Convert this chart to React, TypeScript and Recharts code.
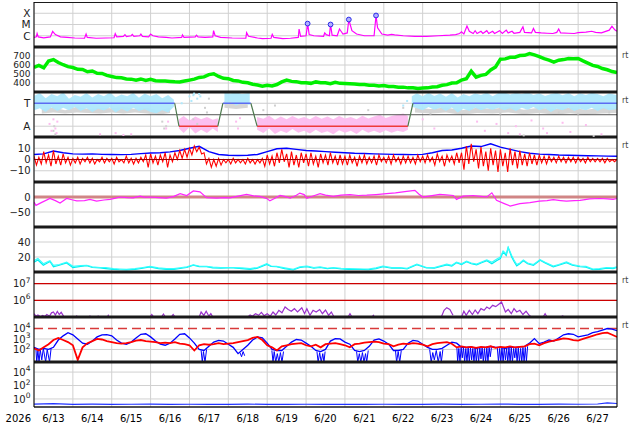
import React from 'react';
import { ComposedChart, Line, Area, Scatter, XAxis, YAxis, CartesianGrid, ReferenceLine, Label } from 'recharts';

// ---------- axis / category data ----------
const dayTicks = [0, 1, 2, 3, 4, 5, 6, 7, 8, 9, 10, 11, 12, 13, 14, 15];
const dateTicks = [0.5, 1.5, 2.5, 3.5, 4.5, 5.5, 6.5, 7.5, 8.5, 9.5, 10.5, 11.5, 12.5, 13.5, 14.5];
const dateLabels = ['6/13', '6/14', '6/15', '6/16', '6/17', '6/18', '6/19', '6/20', '6/21', '6/22', '6/23', '6/24', '6/25', '6/26', '6/27'];
const yearLabel = '2026';
const xrayLetters: Record<string, string> = { '-6': 'C', '-5': 'M', '-4': 'X' };
const taLetters: Record<string, string> = { '0': 'A', '1': 'T' };

// ---------- series data (t = days since 6/13 00:00) ----------
const xrayFlux: number[][] = [
  [0.00, -6.15], [0.06, -6.1], [0.08, -5.8], [0.11, -6.1], [0.25, -6.18], [0.42, -6.1], [0.48, -5.62], [0.55, -5.9], [0.68, -6.1], [0.85, -6.15],
  [1.05, -6.2], [1.3, -6.22], [1.34, -5.85], [1.37, -6.15], [1.6, -6.22], [1.85, -6.2], [2.06, -6.18], [2.09, -5.82], [2.13, -6.1], [2.3, -6.05],
  [2.34, -5.9], [2.38, -6.08], [2.5, -6.0], [2.53, -5.88], [2.57, -6.05], [2.72, -6.0], [2.75, -5.85], [2.79, -6.05], [2.95, -6.1], [3.0, -5.85],
  [3.06, -6.0], [3.2, -6.1], [3.4, -6.15], [3.55, -6.2], [3.8, -6.15], [3.82, -5.92], [3.86, -6.15], [4.15, -6.1], [4.18, -5.95], [4.22, -6.1],
  [4.4, -6.15], [4.6, -6.1], [4.62, -5.55], [4.66, -6.0], [4.8, -6.15], [5.1, -6.2], [5.45, -6.22], [5.47, -5.72], [5.52, -6.05], [5.75, -6.2],
  [5.88, -6.25], [6.1, -6.22], [6.13, -5.88], [6.17, -6.15], [6.4, -6.25], [6.6, -6.22], [6.8, -6.15], [6.82, -5.4], [6.86, -6.05], [7.0, -6.0],
  [7.04, -4.92], [7.08, -5.9], [7.2, -6.0], [7.45, -6.05], [7.48, -5.75], [7.52, -5.9], [7.6, -6.0], [7.63, -5.0], [7.67, -5.95], [7.8, -6.0],
  [7.86, -5.4], [7.9, -5.6], [7.95, -5.85], [8.06, -5.75], [8.1, -4.56], [8.18, -5.55], [8.3, -5.85], [8.5, -6.0], [8.75, -6.0], [8.8, -4.2],
  [8.84, -5.3], [8.95, -5.85], [9.1, -5.95], [9.2, -5.88], [9.28, -5.92], [9.5, -6.0], [9.8, -6.05], [10.1, -6.05], [10.4, -6.0], [10.7, -5.95],
  [10.85, -5.9], [10.95, -5.8], [11.0, -5.65], [11.06, -5.85], [11.14, -5.13], [11.2, -5.6], [11.3, -5.8], [11.35, -5.55], [11.4, -5.8], [11.5, -5.6],
  [11.55, -5.8], [11.65, -5.55], [11.7, -5.8], [11.8, -5.6], [11.85, -5.8], [11.98, -5.55], [12.05, -5.8], [12.15, -5.5], [12.2, -5.75], [12.3, -5.6],
  [12.35, -5.78], [12.5, -5.7], [12.58, -5.2], [12.62, -5.7], [12.8, -5.75], [12.85, -5.35], [12.9, -5.7], [13.05, -5.75], [13.2, -5.78], [13.35, -5.8],
  [13.45, -5.7], [13.5, -5.4], [13.55, -5.75], [13.75, -5.78], [13.9, -5.8], [14.0, -5.72], [14.2, -5.68], [14.35, -5.6], [14.45, -5.7], [14.6, -5.75],
  [14.8, -5.5], [14.87, -5.16], [14.95, -5.5], [15.0, -5.6],
];
const flarePeaks: number[][] = [[7.04, -4.92], [7.63, -5.0], [8.1, -4.56], [8.8, -4.2]];

// 3-hourly
const windSpeed: number[] = [
  575, 595, 568, 645, 660, 628, 603, 582,
  572, 552, 550, 525, 533, 508, 506, 485,
  472, 460, 458, 445, 443, 430, 445, 428,
  440, 425, 423, 422, 418, 414, 412, 422,
  432, 443, 462, 468, 493, 502, 473, 452,
  448, 428, 423, 407, 403, 387, 378, 365,
  375, 368, 383, 412, 433, 418, 415, 402,
  403, 396, 412, 402, 403, 392, 407, 396,
  394, 392, 390, 383, 382, 375, 374, 366,
  372, 362, 362, 353, 354, 346, 347, 339,
  344, 346, 355, 358, 375, 382, 399, 402,
  433, 447, 530, 465, 485, 495, 545, 578,
  665, 668, 685, 686, 705, 708, 727, 712,
  694, 670, 654, 633, 653, 660, 672, 670,
  673, 646, 621, 596, 584, 561, 547, 527,
  515,
];

const stepT: (number | null)[][] = [[0, 1], [3.62, 1], [3.63, null], [4.86, 1], [5.58, 1], [5.59, null], [9.75, 1], [15, 1]];
const stepA: (number | null)[][] = [[3.73, 0], [4.73, 0], [4.74, null], [5.74, 0], [9.62, 0]];
const stepSwitch: (number | null)[][] = [[3.62, 1], [3.73, 0], [3.74, null], [4.73, 0], [4.86, 1], [4.87, null], [5.58, 1], [5.74, 0], [5.75, null], [9.62, 0], [9.75, 1]];
const cloudT: (number | null)[][] = [
  [0.0, 0.7, 1.32], [0.15, 0.78, 1.45], [0.3, 0.62, 1.22], [0.45, 0.82, 1.4], [0.6, 0.66, 1.3], [0.75, 0.8, 1.48], [0.9, 0.7, 1.2], [1.05, 0.84, 1.36],
  [1.2, 0.66, 1.28], [1.35, 0.78, 1.45], [1.5, 0.62, 1.25], [1.65, 0.76, 1.4], [1.8, 0.68, 1.3], [1.95, 0.82, 1.47], [2.1, 0.6, 1.26], [2.25, 0.76, 1.38],
  [2.4, 0.64, 1.3], [2.55, 0.8, 1.46], [2.7, 0.66, 1.24], [2.85, 0.74, 1.42], [3.0, 0.62, 1.3], [3.15, 0.56, 1.4], [3.3, 0.7, 1.22], [3.45, 0.6, 1.36],
  [3.6, 0.85, 1.15], [3.62, null, null],
  [4.9, 0.95, 1.48], [5.05, 1.05, 1.42], [5.2, 0.9, 1.48], [5.35, 1.0, 1.4], [5.55, 0.92, 1.46], [5.57, null, null],
  [9.72, 0.85, 1.3], [9.85, 0.78, 1.44], [10.0, 0.7, 1.3], [10.15, 0.84, 1.46], [10.3, 0.72, 1.32], [10.45, 0.8, 1.42], [10.6, 0.66, 1.28], [10.75, 0.82, 1.45],
  [10.9, 0.6, 1.25], [11.05, 0.76, 1.4], [11.2, 0.66, 1.3], [11.35, 0.8, 1.44], [11.5, 0.7, 1.36], [11.65, 0.78, 1.47], [11.8, 0.72, 1.3], [11.95, 0.8, 1.45],
  [12.1, 0.7, 1.48], [12.25, 0.78, 1.38], [12.4, 0.66, 1.46], [12.55, 0.8, 1.4], [12.7, 0.72, 1.48], [12.85, 0.84, 1.36], [13.0, 0.7, 1.44], [13.15, 0.78, 1.32],
  [13.3, 0.62, 1.4], [13.45, 0.76, 1.46], [13.6, 0.7, 1.35], [13.75, 0.8, 1.45], [13.9, 0.66, 1.3], [14.05, 0.76, 1.44], [14.2, 0.7, 1.36], [14.35, 0.8, 1.46],
  [14.5, 0.66, 1.4], [14.65, 0.78, 1.3], [14.8, 0.7, 1.44], [15.0, 0.75, 1.35],
];
const cloudGray: (number | null)[][] = [
  [0.2, 0.55, 0.75], [0.5, 0.6, 0.82], [0.8, 0.55, 0.7], [1.1, 0.6, 0.85], [1.4, 0.58, 0.75], [1.7, 0.55, 0.8], [2.0, 0.6, 0.78], [2.3, 0.55, 0.85],
  [2.6, 0.6, 0.75], [2.9, 0.55, 0.8], [3.2, 0.5, 0.7], [3.5, 0.58, 0.8], [3.55, null, null],
  [4.9, 0.8, 1.1], [5.2, 0.75, 1.0], [5.5, 0.8, 1.05], [5.55, null, null],
  [9.8, 0.6, 0.8], [10.2, 0.55, 0.75], [10.6, 0.6, 0.82], [11.0, 0.5, 0.7], [11.4, 0.58, 0.8], [11.8, 0.55, 0.75], [12.2, 0.6, 0.85], [12.6, 0.52, 0.72],
  [13.0, 0.58, 0.8], [13.4, 0.5, 0.75], [13.8, 0.56, 0.8], [14.2, 0.5, 0.72], [14.6, 0.55, 0.8], [15.0, 0.58, 0.78],
];
const cloudA: (number | null)[][] = [
  [3.73, -0.1, 0.3], [3.85, -0.3, 0.45], [4.0, -0.05, 0.25], [4.15, -0.32, 0.42], [4.3, -0.15, 0.3], [4.45, -0.3, 0.4], [4.6, -0.1, 0.28], [4.73, -0.25, 0.35], [4.75, null, null],
  [5.74, -0.15, 0.4], [5.9, -0.3, 0.32], [6.05, -0.1, 0.46], [6.2, -0.34, 0.28], [6.35, -0.2, 0.42], [6.5, -0.3, 0.3], [6.65, -0.12, 0.44], [6.8, -0.28, 0.32],
  [6.95, -0.2, 0.4], [7.1, -0.32, 0.3], [7.25, -0.15, 0.45], [7.4, -0.3, 0.32], [7.55, -0.22, 0.42], [7.7, -0.35, 0.3], [7.85, -0.18, 0.44], [8.0, -0.28, 0.34],
  [8.15, -0.2, 0.4], [8.3, -0.34, 0.3], [8.45, -0.15, 0.46], [8.6, -0.28, 0.34], [8.75, -0.2, 0.42], [8.9, -0.3, 0.5], [9.05, -0.18, 0.36], [9.2, -0.28, 0.44],
  [9.35, -0.2, 0.5], [9.5, -0.25, 0.55], [9.62, -0.15, 0.45],
];
const pinkDots: number[][] = [
  [0.4, 0.1], [0.45, -0.2], [0.5, 0.3], [0.55, -0.1], [0.6, 0.2], [0.58, -0.3], [1.7, -0.35], [2.1, -0.3], [2.3, -0.38], [2.5, -0.35], [3.4, -0.1],
  [3.45, 0.2], [10.0, 0.3], [10.3, -0.1], [11.4, 0.2], [11.6, -0.2], [11.9, 0.1], [12.2, -0.3], [12.4, 0.0], [12.5, -0.35], [12.8, 0.25], [13.1, -0.1],
  [13.2, -0.3], [13.6, 0.15], [13.8, -0.25], [14.2, 0.05], [14.6, -0.35], [5.2, 0.2], [5.25, -0.1], [5.3, 0.35],
];
const grayDots: number[][] = [
  [0.5, -0.2], [0.52, 0.0], [0.55, -0.35], [3.3, 0.2], [3.35, -0.1], [3.4, 0.0], [4.4, 0.8], [4.45, 0.6], [4.5, 1.2], [5.9, 0.7], [6.2, 0.9],
  [8.6, 0.7], [9.5, 0.8], [10.2, 0.55], [12.0, 0.55], [12.6, -0.4], [13.5, 0.6], [14.0, 0.55], [14.4, -0.42], [14.8, 0.6], [4.1, 0.3], [4.2, 0.1],
];
const blueDots: number[][] = [[3.8, 1.0], [4.0, 1.3], [4.05, 1.1], [4.1, 1.35], [4.12, 1.42], [4.2, 1.2], [4.25, 1.4], [4.28, 1.3], [9.5, 0.9], [9.6, 1.1]];

// 6-hourly
const magBt: number[] = [
  4.5, 5, 7.5, 6, 5, 4.8, 5, 4.6, 4.5, 4.3, 4.6, 5.2, 5.8, 6, 6.8, 8, 10, 11.7, 7, 4.5, 3.8, 3.5, 3.8, 4.5, 7, 9.5, 10, 9, 8, 7.5,
  7, 6.5, 6, 5.5, 5.3, 5, 4.8, 4.6, 4.5, 4.3, 4.6, 6, 8, 8.5, 10, 12, 11.5, 14, 11, 9, 7, 5.5, 4.8, 4.5, 4, 3.8, 3.5, 3.3, 3.2, 3, 2.9,
];
// 3-hourly maxima / minima of Bz
const magBzHi: number[] = [
  3, 2, 7, 4, 8, 3, 5, 2,
  1, 2, 1, 2, 1, 0, 2, 1,
  1, 2, 0, 3, 1, 1, 2, 4,
  5, 3, 4, 6, 4, 6, 8, 9,
  10, 12, 11, 6, 1, 0, 1, 0,
  0, 1, 0, 0, 1, 0, 0, 1,
  4, 3, 6, 9, 5, 7, 4, 6,
  5, 6, 3, 5, 4, 6, 3, 4,
  3, 4, 2, 3, 4, 2, 3, 4,
  2, 3, 4, 2, 3, 3, 2, 4,
  3, 4, 2, 5, 3, 4, 3, 6,
  6, 12, 14, 9, 11, 7, 10, 8,
  9, 6, 10, 7, 8, 5, 6, 4,
  4, 3, 3, 2, 3, 2, 2, 2,
  2, 1, 2, 1, 1, 1, 1, 0,
  0,
];
const magBzLo: number[] = [
  -5, -4, -3, -6, -4, -5, -3, -5,
  -3, -4, -2, -3, -4, -2, -3, -2,
  -4, -2, -3, -3, -4, -3, -2, -7,
  -3, -5, -2, -7, -2, 0, 1, 2,
  4, 7, 5, -4, -7, -6, -5, -3,
  -4, -3, -3, -4, -3, -4, -3, -6,
  -4, -6, -3, -2, -7, -5, -7, -3,
  -6, -4, -7, -3, -5, -3, -5, -4,
  -5, -3, -6, -3, -4, -3, -5, -2,
  -3, -4, -2, -4, -3, -3, -4, -2,
  -3, -2, -5, -2, -6, -2, -4, -3,
  -9, -4, -2, -8, -6, -10, -5, -11,
  -6, -11, -5, -8, -5, -6, -4, -5,
  -3, -4, -2, -3, -2, -3, -2, -3,
  -2, -3, -2, -2, -2, -3, -2, -2,
  -2,
];

const dstIndex: number[][] = [
  [0, -17], [0.05, -28], [0.2, -18], [0.41, -5], [0.55, -12], [0.67, -20], [0.84, -5], [1.0, -10], [1.1, -13], [1.3, -12], [1.44, -8], [1.61, -14],
  [1.8, -10], [1.96, -8], [2.1, -4], [2.21, 0], [2.4, -2], [2.55, -3], [2.73, 3], [2.85, -1], [2.98, 0], [3.2, -2], [3.41, -4], [3.6, 2], [3.76, 11],
  [3.93, 5], [4.1, 20], [4.27, 17], [4.44, -2], [4.7, -4], [4.9, -2], [5.04, -3], [5.25, 3], [5.47, 9], [5.65, 4], [5.81, 2], [6.0, -6], [6.07, -13],
  [6.2, -4], [6.33, 5], [6.45, 2], [6.59, -4], [6.75, 6], [6.84, 13], [6.95, 8], [7.02, -4], [7.2, 4], [7.36, 11], [7.5, 6], [7.7, 2], [7.9, 6],
  [8.13, 8], [8.35, 5], [8.56, 6], [8.8, 8], [9.07, 11], [9.3, 14], [9.59, 19], [9.8, 22], [9.9, 10], [10.0, 0], [10.2, 4], [10.44, 9], [10.6, 7],
  [10.79, 5], [10.87, -8], [11.04, 3], [11.3, 5], [11.5, 2], [11.65, 0], [11.78, 14], [11.9, -11], [12.1, -22], [12.25, -30], [12.5, -22], [12.76, -19],
  [13.0, -14], [13.2, -12], [13.36, -9], [13.55, -12], [13.7, -14], [13.9, -12], [14.05, -11], [14.3, -6], [14.56, -5], [14.75, -6], [14.9, -8], [15, -5],
];

const densityPair: number[][] = [
  [0, 13, 15], [0.1, 16, 18], [0.24, 9, 11], [0.41, 14, 15], [0.5, 7, 9], [0.65, 9, 10], [0.84, 12, 13], [1.0, 6, 7.5], [1.2, 7.5, 8.5], [1.36, 8.4, 9],
  [1.5, 6, 7], [1.7, 5.3, 6], [1.85, 4.5, 6], [2.04, 3.5, 4.5], [2.2, 3, 4], [2.38, 2.7, 3.5], [2.6, 3.5, 4.5], [2.8, 5, 6], [2.98, 6.7, 7.5], [3.2, 4.5, 5.5],
  [3.41, 3.5, 4.5], [3.6, 3.5, 4.5], [3.8, 5, 6], [3.93, 6, 7], [4.1, 9, 9.5], [4.25, 7, 8], [4.44, 7, 7.5], [4.6, 5.5, 6.5], [4.8, 5, 6], [5.0, 5.5, 6],
  [5.13, 5.3, 6], [5.35, 4.5, 5.5], [5.56, 3.5, 4.5], [5.75, 5, 6], [5.99, 10, 11], [6.1, 7.5, 8], [6.24, 7, 7.5], [6.45, 4.5, 5.5], [6.67, 2.7, 3.5], [6.84, 6, 7],
  [7.02, 7, 8], [7.2, 5, 6], [7.36, 6, 7], [7.55, 4.5, 5], [7.7, 5.3, 6], [7.9, 4, 5], [8.1, 3.5, 4.5], [8.39, 3.5, 4], [8.6, 3, 4], [8.8, 4.5, 5.5],
  [8.98, 7, 8], [9.2, 5, 6], [9.42, 5.3, 6], [9.6, 4, 5], [9.85, 9.8, 10.5], [10.1, 5.3, 6], [10.3, 5, 6], [10.62, 9.5, 10.5], [10.75, 8, 9], [10.87, 12.4, 13],
  [11.0, 10, 11], [11.13, 13.7, 14.5], [11.25, 11, 12], [11.39, 9.5, 10.5], [11.5, 12, 13], [11.65, 15, 16], [11.78, 11, 13], [11.9, 15, 17], [12.0, 18, 20], [12.07, 26.7, 28],
  [12.15, 22, 24], [12.2, 32.4, 33], [12.29, 20, 22], [12.35, 14, 16], [12.42, 8, 10], [12.5, 11, 12], [12.59, 15, 16], [12.7, 11, 12], [12.85, 9, 10], [13.02, 15.6, 16.5],
  [13.15, 12, 13], [13.36, 7, 8], [13.5, 9, 10], [13.7, 12.5, 13.5], [13.85, 9, 10], [14.05, 7, 8], [14.2, 6.5, 7.5], [14.38, 3, 4], [14.55, 3.5, 4.5], [14.73, 5, 6],
  [14.9, 4.5, 5.5], [15, 6, 7],
];

const protonFlux: (number | null)[][] = [
  [0, 5.2], [0.05, 5.05], [0.1, 5.12], [0.17, 5.02], [0.22, 5.1], [0.28, 5.03], [0.33, 5.15], [0.4, 5.05], [0.45, 5.25], [0.5, 5.3], [0.55, 5.12],
  [0.6, 5.33], [0.65, 5.15], [0.7, 5.28], [0.76, 5.05], [0.8, null], [1.08, 5.0], [1.1, 5.06], [1.12, 5.0], [1.14, null], [1.42, 5.0], [1.44, 5.06],
  [1.46, 5.0], [1.48, null], [1.63, 5.0], [1.65, 5.05], [1.67, 5.0], [1.69, null], [1.89, 5.0], [1.91, 5.1], [1.93, 5.0], [1.95, null], [2.98, 5.0],
  [3.03, 5.15], [3.08, 5.0], [3.1, null], [3.28, 5.0], [3.33, 5.18], [3.38, 5.0], [3.4, null], [3.53, 5.0], [3.58, 5.15], [3.63, 5.0], [3.65, null],
  [4.25, 5.0], [4.3, 5.3], [4.37, 5.1], [4.43, 5.35], [4.5, 5.05], [4.55, 5.2], [4.6, 5.0], [4.62, null], [5.5, 5.0], [5.56, 5.12], [5.62, 5.05],
  [5.7, 5.2], [5.78, 5.1], [5.85, 5.28], [5.92, 5.08], [6.0, 5.2], [6.08, 5.05], [6.15, 5.3], [6.22, 5.12], [6.3, 5.4], [6.38, 5.25], [6.46, 5.6],
  [6.54, 5.45], [6.62, 5.35], [6.7, 5.5], [6.78, 5.3], [6.89, 5.55], [6.96, 5.2], [7.02, 5.5], [7.1, 5.1], [7.18, 5.4], [7.26, 5.3], [7.35, 5.45],
  [7.42, 5.2], [7.5, 5.42], [7.58, 5.1], [7.65, 5.3], [7.72, 5.0], [7.75, null], [8.08, 5.0], [8.13, 5.2], [8.18, 5.0], [8.2, null], [8.7, 5.0],
  [8.73, 5.1], [8.76, 5.0], [8.78, null], [10.48, 5.0], [10.55, 5.4], [10.62, 5.56], [10.7, 5.45], [10.78, 5.1], [10.82, null], [11.0, 5.0],
  [11.06, 5.35], [11.12, 5.1], [11.2, 5.4], [11.28, 5.15], [11.35, 5.42], [11.42, 5.2], [11.5, 5.5], [11.58, 5.4], [11.65, 5.6], [11.72, 5.5],
  [11.8, 5.7], [11.88, 5.62], [11.95, 5.75], [12.03, 5.9], [12.08, 5.6], [12.13, 5.3], [12.2, 5.45], [12.28, 5.2], [12.35, 5.5], [12.42, 5.3],
  [12.5, 5.4], [12.58, 5.15], [12.66, 5.35], [12.74, 5.1], [12.8, 5.0], [12.82, null], [13.1, 5.0], [13.15, 5.2], [13.2, 5.0], [13.22, null],
  [13.55, 5.0], [13.6, 5.06], [13.65, 5.0], [13.67, null],
];

// 3-hourly, log10
const electronBlue: number[] = [
  2.2, 2.0, 2.1, 2.0, 2.2, 2.9, 3.3, 3.6,
  3.4, 3.0, 2.6, 2.5, 2.8, 3.2, 3.4, 3.42,
  3.3, 2.9, 2.6, 2.5, 2.7, 3.1, 3.45, 3.5,
  3.2, 2.8, 2.5, 2.4, 2.6, 3.0, 3.45, 3.5,
  3.1, 2.6, 2.0, 1.9, 2.3, 2.7, 2.87, 2.8,
  2.5, 2.2, 1.6, 2.0, 2.4, 2.9, 3.19, 3.1,
  2.6, 2.0, 1.9, 1.9, 2.3, 2.7, 2.95, 2.9,
  2.6, 2.3, 1.9, 1.8, 2.0, 2.8, 3.04, 3.0,
  2.7, 2.5, 1.9, 1.8, 1.9, 2.3, 2.9, 3.0,
  2.8, 2.5, 1.9, 1.9, 2.0, 2.6, 2.87, 2.8,
  2.5, 2.2, 2.0, 2.0, 2.1, 2.4, 2.7, 2.6,
  2.2, 2.2, 2.25, 2.1, 2.2, 2.2, 2.3, 2.2,
  2.2, 2.1, 2.2, 2.2, 2.25, 2.3, 2.6, 3.04,
  2.56, 2.7, 2.9, 2.8, 3.1, 3.4, 3.5, 3.45,
  3.2, 3.3, 3.4, 3.6, 3.7, 3.85, 4.0, 3.95,
  3.8,
];
// dropout spikes of the blue electron trace
const electronBlueDrops: (number | null)[][] = [
  [0.05, 2.0], [0.07, 0.8], [0.1, 1.9], [0.13, 0.8], [0.16, 2.0], [0.2, 1.0], [0.24, 2.1], [0.3, 0.8], [0.34, 2.0], [0.4, 0.8], [0.44, 2.1], [0.46, null],
  [4.3, 1.9], [4.33, 0.8], [4.36, 1.8], [4.4, 0.8], [4.44, 2.0], [4.46, null],
  [5.3, 1.7], [5.34, 1.3], [5.38, 1.8], [5.42, 1.4], [5.44, null],
  [6.12, 1.9], [6.15, 0.8], [6.18, 1.8], [6.22, 0.8], [6.26, 1.6], [6.3, 0.8], [6.34, 1.7], [6.38, 0.8], [6.42, 1.8], [6.44, null],
  [7.28, 1.8], [7.31, 0.8], [7.35, 1.7], [7.39, 0.8], [7.43, 1.6], [7.46, 0.8], [7.49, 1.8], [7.51, null],
  [8.3, 1.8], [8.33, 0.8], [8.37, 1.6], [8.41, 0.8], [8.45, 1.7], [8.49, 0.8], [8.53, 1.6], [8.56, 0.8], [8.6, 1.9], [8.62, null],
  [9.3, 1.9], [9.33, 0.8], [9.37, 1.8], [9.41, 0.8], [9.45, 1.9], [9.47, null],
  [10.18, 2.0], [10.22, 0.8], [10.26, 1.7], [10.3, 1.0], [10.35, 1.9], [10.4, 0.8], [10.45, 1.8], [10.48, 0.8], [10.52, 2.0], [10.54, null],
  [10.88, 2.2], [10.9, 0.8], [10.93, 2.1], [10.96, 0.8], [10.99, 2.2], [11.02, 1.2], [11.05, 2.2], [11.08, 0.8], [11.11, 2.1], [11.14, 0.8],
  [11.17, 2.2], [11.2, 0.8], [11.23, 2.2], [11.26, 1.0], [11.29, 2.1], [11.32, 0.8], [11.35, 2.2], [11.38, 0.8], [11.41, 2.1], [11.44, 0.8],
  [11.47, 2.2], [11.5, 1.1], [11.53, 2.2], [11.56, 0.8], [11.59, 2.1], [11.62, 0.8], [11.65, 2.2], [11.68, 0.8], [11.71, 2.2], [11.74, 1.3],
  [11.77, 2.2], [11.8, null], [11.92, 2.2], [11.95, 0.8], [11.98, 2.1], [12.01, 0.8], [12.04, 2.2], [12.07, 0.8], [12.1, 2.2], [12.13, 1.0],
  [12.16, 2.1], [12.19, 0.8], [12.22, 2.2], [12.25, 0.8], [12.28, 2.2], [12.31, 0.8], [12.34, 2.1], [12.37, 1.2], [12.4, 2.2], [12.43, 0.8],
  [12.46, 2.2], [12.49, 0.8], [12.52, 2.1], [12.55, 0.8], [12.58, 2.2], [12.61, 0.8], [12.64, 2.2], [12.67, 0.9], [12.7, 2.3],
];
const electronRed: number[] = [
  2.1, 1.9, 2.2, 2.5, 2.9, 3.1, 2.9, 2.7,
  2.4, 1.0, 2.2, 2.6, 2.8, 3.0, 2.95, 2.8,
  2.7, 2.6, 2.55, 2.6, 2.7, 2.85, 2.9, 2.8,
  2.75, 2.7, 2.6, 2.65, 2.6, 2.7, 2.55, 2.5,
  2.4, 1.9, 2.4, 2.5, 2.45, 2.5, 2.6, 2.5,
  2.55, 2.6, 2.7, 2.8, 2.9, 3.1, 3.2, 2.9,
  2.4, 2.2, 1.9, 2.3, 2.4, 2.5, 2.55, 2.6,
  2.4, 2.3, 2.45, 2.2, 2.5, 2.55, 2.6, 2.5,
  2.4, 2.2, 2.5, 2.55, 2.65, 2.7, 2.75, 2.7,
  2.55, 2.5, 2.3, 2.45, 2.55, 2.5, 2.6, 2.55,
  2.45, 2.3, 2.5, 2.6, 2.65, 2.7, 2.55, 2.2,
  2.3, 2.2, 2.25, 2.15, 2.25, 2.2, 2.3, 2.15,
  2.25, 2.2, 2.3, 2.2, 2.25, 2.3, 2.5, 2.55,
  2.4, 2.6, 2.75, 2.85, 2.95, 3.05, 3.0, 2.9,
  2.85, 3.0, 3.15, 3.3, 3.45, 3.55, 3.6, 3.4,
  3.2,
];

const lastFlux: number[][] = [
  [0, -0.78], [0.5, -0.7], [1, -0.8], [1.5, -0.77], [2, -0.8], [2.5, -0.79], [3, -0.78], [3.5, -0.8], [4, -0.79], [4.5, -0.81], [5, -0.8],
  [5.5, -0.78], [6, -0.8], [6.5, -0.81], [7, -0.79], [7.5, -0.8], [8, -0.82], [8.5, -0.8], [9, -0.79], [9.5, -0.81], [10, -0.8], [10.5, -0.78],
  [11, -0.8], [11.5, -0.79], [12, -0.77], [12.5, -0.8], [13, -0.8], [13.5, -0.78], [14, -0.79], [14.5, -0.75], [14.75, -0.6], [15, -0.68],
];

// ---------- builders ----------
const pts = (a: (number | null)[][]) => a.map(([t, v]) => ({ t: t as number, v }));
const seq = (vals: number[], perDay: number) => vals.map((v, i) => ({ t: i / perDay, v }));
const rng = (a: (number | null)[][]) => a.map(([t, lo, hi]) => ({ t: t as number, r: lo == null ? null : [lo, hi] }));
// max then min of each 3-hour bin, in time order
const hiLo = (hi: number[], lo: number[], perDay: number) =>
  hi.flatMap((h, i) => (i < hi.length - 1 ? [{ t: i / perDay, v: h }, { t: (i + 0.5) / perDay, v: lo[i] }] : [{ t: i / perDay, v: h }]));

// ---------- ticks ----------
const LABEL_X = 30.5;
const fmtNum = (v: number) => (v < 0 ? '\u2212' + Math.abs(v) : String(v));
const numTick = (size: number) => (p: any) => (
  <text x={LABEL_X} y={p.y} dy="0.36em" textAnchor="end" fontSize={size} fill="#222">{fmtNum(p.payload.value)}</text>
);
const PowTick = (p: any) => (
  <text x={LABEL_X} y={p.y} dy="0.36em" textAnchor="end" fontSize={10} fill="#222">
    10<tspan dy={-4.5} fontSize={7.5}>{p.payload.value}</tspan>
  </text>
);
const letterTick = (map: Record<string, string>) => (p: any) => (
  <text x={LABEL_X} y={p.y} dy="0.36em" textAnchor="end" fontSize={10.5} fill="#222">{map[String(p.payload.value)]}</text>
);

// ---------- layout ----------
const W = 634;
const PANEL_H = 45;
const TOP0 = 1.7;

type PanelProps = {
  index: number;
  domain: number[];
  ticks: number[];
  tick: any;
  grid: number[];
  rt?: boolean;
  xAxis?: boolean;
  topLine?: number;
  bottomLine?: number;
  children?: React.ReactNode;
};

function Panel({ index, domain, ticks, tick, grid, rt, xAxis, topLine = 3, bottomLine = 3, children }: PanelProps) {
  const h = PANEL_H + (xAxis ? 17 : 0);
  return (
    <div style={{ position: 'absolute', left: 0, top: TOP0 + index * PANEL_H, width: W, height: h }}>
      <ComposedChart width={W} height={h} margin={{ top: 0, right: 0, bottom: 0, left: 0 }}>
        <CartesianGrid yAxisId="l" verticalValues={dayTicks} horizontalValues={grid} stroke="#d0d0d0" />
        {xAxis ? (
          <XAxis dataKey="t" type="number" domain={[0, 15]} allowDataOverflow height={17} ticks={dateTicks} interval={0}
            tickFormatter={(v: number) => dateLabels[Math.floor(v)]} tickLine={false} axisLine={false}
            tick={{ fontSize: 10, fill: '#000' }}>
            <Label value={yearLabel} position="left" offset={3} dy={3} fontSize={10} fill="#000" />
          </XAxis>
        ) : (
          <XAxis dataKey="t" type="number" domain={[0, 15]} allowDataOverflow hide ticks={dayTicks} />
        )}
        <YAxis yAxisId="l" type="number" domain={domain} allowDataOverflow width={34} ticks={ticks} interval={0}
          tick={tick} tickLine={false} axisLine={{ stroke: '#000' }} />
        <YAxis yAxisId="r" orientation="right" type="number" domain={domain} allowDataOverflow width={17}
          tick={false} tickLine={false} axisLine={{ stroke: '#000' }}
          label={rt ? { value: 'rt', position: 'insideTopLeft', offset: 5, fontSize: 8, fill: '#444' } : undefined} />
        {children}
        <ReferenceLine yAxisId="l" y={domain[1]} stroke="#1a1a1a" strokeWidth={topLine} />
        <ReferenceLine yAxisId="l" y={domain[0]} stroke="#1a1a1a" strokeWidth={bottomLine} />
      </ComposedChart>
    </div>
  );
}

const flareShape = (p: any) => <circle cx={p.cx} cy={p.cy} r={2.4} fill="#b0b0ff" stroke="#2a2ae8" strokeWidth={1} />;
const dotShape = (color: string) => (p: any) => <rect x={p.cx - 1} y={p.cy - 1} width={2} height={2} fill={color} />;

export default function App() {
  return (
    <div style={{ position: 'absolute', left: 0, top: 0, width: W, height: 424, background: '#fff', fontFamily: '"DejaVu Sans", sans-serif', overflow: 'hidden' }}>
      <Panel index={0} domain={[-7, -3]} ticks={[-6, -5, -4]} tick={letterTick(xrayLetters)} grid={[-6, -5, -4]} topLine={2}>
        <Line yAxisId="l" data={pts(xrayFlux)} dataKey="v" stroke="#ff00ff" strokeWidth={1.2} dot={false} isAnimationActive={false} />
        <Scatter yAxisId="l" data={pts(flarePeaks)} dataKey="v" shape={flareShape} isAnimationActive={false} />
      </Panel>

      <Panel index={1} domain={[300, 800]} ticks={[400, 500, 600, 700]} tick={numTick(9)} grid={[400, 500, 600, 700]} rt>
        <Line yAxisId="l" data={seq(windSpeed, 8)} dataKey="v" stroke="#00ee00" strokeWidth={3.5} dot={false} isAnimationActive={false} />
      </Panel>

      <Panel index={2} domain={[-0.47, 1.49]} ticks={[0, 1]} tick={letterTick(taLetters)} grid={[0, 1]} rt>
        <Area yAxisId="l" data={rng(cloudGray)} dataKey="r" stroke="none" fill="#d6d6d6" fillOpacity={1} isAnimationActive={false} />
        <Area yAxisId="l" data={rng(cloudT)} dataKey="r" stroke="none" fill="#aee8fc" fillOpacity={0.95} isAnimationActive={false} />
        <Area yAxisId="l" data={rng(cloudA)} dataKey="r" stroke="none" fill="#fcbcef" fillOpacity={0.95} isAnimationActive={false} />
        <Scatter yAxisId="l" data={pts(grayDots)} dataKey="v" shape={dotShape('#cfcfcf')} isAnimationActive={false} />
        <Scatter yAxisId="l" data={pts(pinkDots)} dataKey="v" shape={dotShape('#fcbcef')} isAnimationActive={false} />
        <Scatter yAxisId="l" data={pts(blueDots)} dataKey="v" shape={dotShape('#aee8fc')} isAnimationActive={false} />
        <ReferenceLine yAxisId="l" y={0.5} stroke="#555" strokeWidth={1} />
        <Line yAxisId="l" data={pts(stepT)} dataKey="v" stroke="#5c6cf2" strokeWidth={1.5} dot={false} isAnimationActive={false} />
        <Line yAxisId="l" data={pts(stepA)} dataKey="v" stroke="#ee3a3a" strokeWidth={1.5} dot={false} isAnimationActive={false} />
        <Line yAxisId="l" data={pts(stepSwitch)} dataKey="v" stroke="#4f7a4f" strokeWidth={1.2} dot={false} isAnimationActive={false} />
      </Panel>

      <Panel index={3} domain={[-20, 20]} ticks={[-10, 0, 10]} tick={numTick(10)} grid={[-10, 0, 10]} rt>
        <Line yAxisId="l" data={seq(magBt, 4)} dataKey="v" stroke="#0000ff" strokeWidth={1.4} dot={false} isAnimationActive={false} />
        <Line yAxisId="l" data={hiLo(magBzHi, magBzLo, 8)} dataKey="v" stroke="#ff0000" strokeWidth={1.1} dot={false} isAnimationActive={false} />
        <ReferenceLine yAxisId="l" y={0} stroke="#990000" strokeWidth={1} />
      </Panel>

      <Panel index={4} domain={[-100, 50]} ticks={[-50, 0]} tick={numTick(10)} grid={[-50, 0]}>
        <ReferenceLine yAxisId="l" y={0} stroke="#d08585" strokeWidth={3} />
        <Line yAxisId="l" data={pts(dstIndex)} dataKey="v" stroke="#ff22ff" strokeWidth={1.2} dot={false} isAnimationActive={false} />
      </Panel>

      <Panel index={5} domain={[0, 60]} ticks={[20, 40]} tick={numTick(10)} grid={[20, 40]}>
        <Line yAxisId="l" data={densityPair.map(([t, a]) => ({ t, v: a }))} dataKey="v" stroke="#00eeee" strokeWidth={1.2} dot={false} isAnimationActive={false} />
        <Line yAxisId="l" data={densityPair.map(([t, , b]) => ({ t, v: b }))} dataKey="v" stroke="#33ffff" strokeWidth={1.2} dot={false} isAnimationActive={false} />
      </Panel>

      <Panel index={6} domain={[5, 7.7]} ticks={[6, 7]} tick={PowTick} grid={[6, 7]} rt>
        <ReferenceLine yAxisId="l" y={7} stroke="#cc0000" strokeWidth={1.2} />
        <ReferenceLine yAxisId="l" y={6} stroke="#cc0000" strokeWidth={1.2} />
        <Line yAxisId="l" data={pts(protonFlux)} dataKey="v" stroke="#9a32cd" strokeWidth={1.2} dot={false} isAnimationActive={false} />
      </Panel>

      <Panel index={7} domain={[0.8, 5.1]} ticks={[2, 3, 4]} tick={PowTick} grid={[2, 3]} rt>
        <ReferenceLine yAxisId="l" y={4} stroke="#d83a3a" strokeWidth={1.5} strokeDasharray="9 5" />
        <Line yAxisId="l" data={pts(electronBlueDrops)} dataKey="v" stroke="#0000ff" strokeWidth={1} dot={false} isAnimationActive={false} />
        <Line yAxisId="l" data={seq(electronBlue, 8)} dataKey="v" stroke="#0000ff" strokeWidth={1.3} dot={false} isAnimationActive={false} />
        <Line yAxisId="l" data={seq(electronRed, 8)} dataKey="v" stroke="#ff0000" strokeWidth={1.8} dot={false} isAnimationActive={false} />
      </Panel>

      <Panel index={8} domain={[-1.2, 5.5]} ticks={[0, 2, 4]} tick={PowTick} grid={[0, 2, 4]} xAxis bottomLine={1.5}>
        <Line yAxisId="l" data={pts(lastFlux)} dataKey="v" stroke="#2233ff" strokeWidth={1.2} dot={false} isAnimationActive={false} />
      </Panel>
    </div>
  );
}
